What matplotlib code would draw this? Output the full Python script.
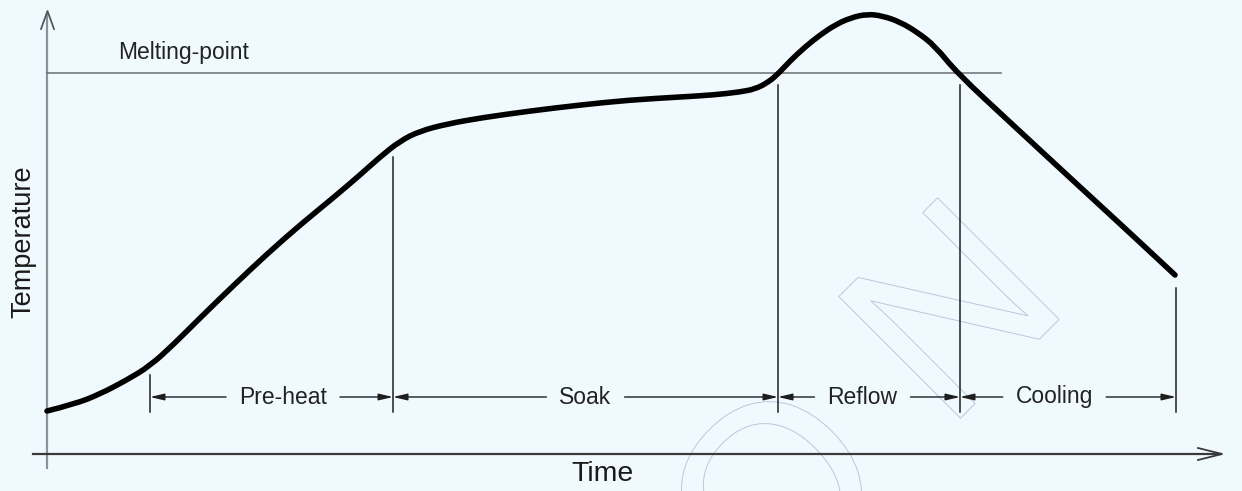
import matplotlib
matplotlib.use("Agg")
import matplotlib.pyplot as plt
from matplotlib.textpath import TextPath
from matplotlib.font_manager import FontProperties
from matplotlib.patches import PathPatch
from matplotlib.path import Path
from matplotlib.transforms import Affine2D

# ---------------- data (image-frame units: time to the right, temperature drawn upward) ----------------
time = [47, 75, 100, 125, 150, 175, 200, 233, 267, 300, 333, 360, 380, 400, 420,
        447, 480, 530, 580, 630, 680, 713, 740, 755, 767, 777, 790, 805, 820, 835,
        850, 867, 883, 900, 917, 935, 957, 1013, 1080, 1130, 1175]
temp = [411, 404, 394, 381, 366, 343, 318, 286, 254, 225, 198, 175, 157, 141, 131,
        124, 118, 111, 105, 100, 97, 95, 92, 89, 83, 75, 61, 47, 35, 25,
        18, 14, 16, 22, 32, 46, 73, 125, 187, 233, 275]

melting_point = 73
phase_bounds = [150, 393, 778, 960, 1176]
phase_tops = [375, 157, 85, 85, 288]
phase_labels = ["Pre-heat", "Soak", "Reflow", "Cooling"]
phase_label_x = [283, 585.5, 862.5, 1054.5]

BG = "#F0FAFE"
FONT = "Liberation Sans"

fig = plt.figure(figsize=(12.42, 4.91), dpi=100, facecolor=BG)
ax = fig.add_axes([0, 0, 1, 1])
ax.set_facecolor(BG)
ax.set_xlim(0, 1242)
ax.set_ylim(491, 0)
ax.axis("off")

# watermark letters (outline only)
fp = FontProperties(family=FONT)
for ch, (cx0, cy0) in [("O", (772, 492)), ("N", (949, 308))]:
    tp = TextPath((0, 0), ch, size=250, prop=fp)
    bb = tp.get_extents()
    cx, cy = (bb.x0 + bb.x1) / 2, (bb.y0 + bb.y1) / 2
    tr = Affine2D().translate(-cx, -cy).scale(1, -1).rotate_deg(-45).translate(cx0, cy0)
    ax.add_patch(PathPatch(tr.transform_path(tp), fc="none", ec="#B9C7DD", lw=0.7, zorder=1))

# axes
ax.plot([47, 47], [468, 13], color="#8C929C", lw=1.6, zorder=2)
ax.plot([41, 47.5, 54], [29, 11, 29], color="#55595F", lw=1.3, zorder=2)
ax.plot([33, 1220], [454, 454], color="#3A3A3A", lw=1.6, zorder=2)
ax.plot([1198, 1222, 1198], [448, 454, 460], color="#3A3A3A", lw=1.3, zorder=2)

# melting point line
ax.plot([47, 1001], [melting_point, melting_point], color="#6A6E74", lw=1.1, zorder=2)
ax.text(118, 52, "Melting-point", fontsize=16.5, family=FONT, color="#222222",
        ha="left", va="center")

# phase boundary lines
for x, top in zip(phase_bounds, phase_tops):
    ax.plot([x, x], [top, 412], color="#1E1E1E", lw=1.1, zorder=3)

# curve: smooth path with the read points as quadratic control points
pts = list(zip(time, temp))
verts = [pts[0]]
codes = [Path.MOVETO]
for i in range(1, len(pts) - 1):
    mid = ((pts[i][0] + pts[i + 1][0]) / 2, (pts[i][1] + pts[i + 1][1]) / 2)
    verts += [pts[i], mid]
    codes += [Path.CURVE3, Path.CURVE3]
verts.append(pts[-1])
codes.append(Path.LINETO)
ax.add_patch(PathPatch(Path(verts, codes), fc="none", ec="black", lw=4.0,
                       capstyle="round", joinstyle="round", zorder=5))

# labels
ax.text(602, 474, "Time", fontsize=20.5, family=FONT, color="#1A1A1A",
        ha="center", va="center")
ax.text(23, 242, "Temperature", fontsize=19.5, family=FONT, color="#1A1A1A",
        ha="center", va="center", rotation=90)

dim_y = 397
texts = []
for lab, lx in zip(phase_labels, phase_label_x):
    texts.append(ax.text(lx, dim_y, lab, fontsize=16.5, family=FONT, color="#222222",
                         ha="center", va="center"))

fig.canvas.draw()
r = fig.canvas.get_renderer()
inv = ax.transData.inverted()
pad = 13
aprops = dict(arrowstyle="-|>,head_length=0.85,head_width=0.2", color="#1E1E1E",
              lw=1.0, shrinkA=0, shrinkB=0, mutation_scale=10)
for i, t in enumerate(texts):
    bb = t.get_window_extent(r)
    x0 = inv.transform((bb.x0, bb.y0))[0]
    x1 = inv.transform((bb.x1, bb.y0))[0]
    ax.annotate("", xy=(phase_bounds[i], dim_y), xytext=(x0 - pad, dim_y), arrowprops=aprops)
    ax.annotate("", xy=(phase_bounds[i + 1], dim_y), xytext=(x1 + pad, dim_y), arrowprops=aprops)

fig.savefig("out.png", dpi=100, facecolor=BG)
